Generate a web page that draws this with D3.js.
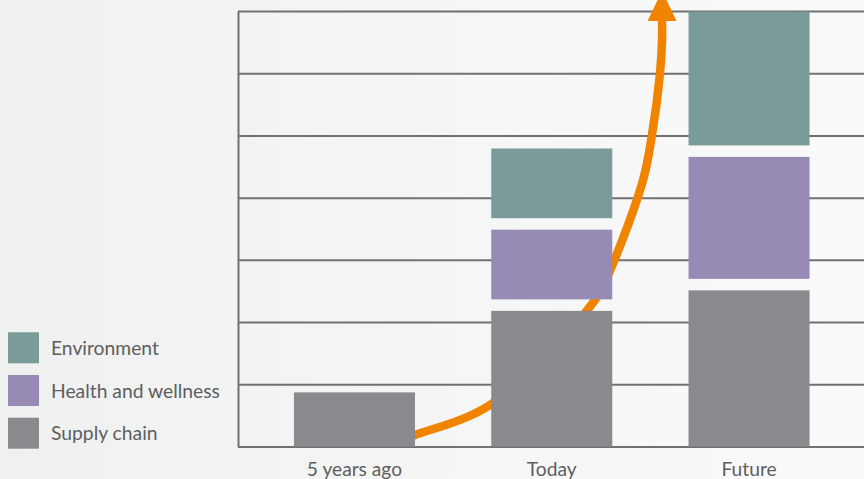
<!DOCTYPE html>
<html>
<head>
<meta charset="utf-8">
<script src="https://cdn.jsdelivr.net/npm/d3@7"></script>
<style>
	html, body { margin: 0; padding: 0; overflow: hidden; }
	#chart text { font-family: Lato, "Open Sans", sans-serif; fill: #5e5e5e; }
</style>
</head>
<body>
<div id="chart"></div>
<script>
const categories = ["5 years ago", "Today", "Future"];
const seriesNames = ["Supply chain", "Health and wellness", "Environment"];
const supplyChain = [0.87, 2.18, 2.51];
const healthWellness = [0, 1.12, 1.96];
const environment = [0, 1.12, 2.15];
const gridTicks = [0, 1, 2, 3, 4, 5, 6, 7];
// growth arrow, x in category index units, y in value units
const arrowX = [0.256, 0.307, 0.687, 1.219, 1.305, 1.463, 1.508, 1.549, 1.559, 1.559];
const arrowY = [0.121, 0.185, 0.667, 2.355, 2.902, 4.285, 5.008, 6.004, 6.534, 6.856];

const colors = ["#8a898d", "#978bb5", "#7b9a9a"];

const w = 864;
const h = 479;
const plotLeft = 238;
const plotTop = 11;
const plotBottom = 446.5;
const gap = 11.5;

const svg = d3
	.select("#chart")
	.append("svg")
	.attr("width", w)
	.attr("height", h);

const grad = svg
	.append("defs")
	.append("linearGradient")
	.attr("id", "bg")
	.attr("x1", 0)
	.attr("x2", 1)
	.attr("y1", 0)
	.attr("y2", 0);
grad.append("stop").attr("offset", "0%").attr("stop-color", "#eff0f0");
grad.append("stop").attr("offset", "100%").attr("stop-color", "#fafafa");

svg
	.append("rect")
	.attr("width", w)
	.attr("height", h)
	.attr("fill", "url(#bg)");

const xScale = d3
	.scaleBand()
	.domain(categories)
	.range([254.5, 849])
	.paddingInner(0.3866)
	.paddingOuter(0.2);
const yScale = d3.scaleLinear().domain([0, 7]).range([plotBottom, plotTop]);

const center = (i) => xScale(categories[i]) + xScale.bandwidth() / 2;
const xIndex = d3.scaleLinear().domain([0, 1]).range([center(0), center(1)]);

// grid and vertical axis line
const yAxis = d3
	.axisLeft(yScale)
	.tickValues(gridTicks)
	.tickSize(-(w - plotLeft))
	.tickSizeOuter(0)
	.tickFormat("");
const gy = svg
	.append("g")
	.attr("transform", "translate(" + plotLeft + ",0)")
	.call(yAxis);
gy.selectAll("line").attr("stroke", "#717171").attr("stroke-width", 2);
gy.select(".domain").attr("stroke", "#717171").attr("stroke-width", 2);

// arrow behind the bars
const arrowPts = arrowX.map((x, i) => [xIndex(x), yScale(arrowY[i])]);
svg
	.append("path")
	.attr("d", d3.line().curve(d3.curveCatmullRom.alpha(0.5))(arrowPts))
	.attr("fill", "none")
	.attr("stroke", "#f08300")
	.attr("stroke-width", 8.5);
const end = arrowPts[arrowPts.length - 1];
svg
	.append("path")
	.attr(
		"d",
		`M${end[0] - 14.5},${end[1] + 1}L${end[0] + 14.5},${end[1] + 1}L${end[0]},${end[1] - 29}Z`
	)
	.attr("fill", "#f08300");

// stacked bars with white gaps
const table = categories.map((c, i) => ({
	cat: c,
	"Supply chain": supplyChain[i],
	"Health and wellness": healthWellness[i],
	Environment: environment[i],
}));
const stack = d3.stack().keys(seriesNames)(table);

stack.forEach((layer, k) => {
	svg
		.append("g")
		.selectAll("rect")
		.data(layer.filter((d) => d[1] - d[0] > 0))
		.enter()
		.append("rect")
		.attr("x", (d) => xScale(d.data.cat))
		.attr("y", (d) => yScale(d[1]) - gap * k)
		.attr("width", xScale.bandwidth())
		.attr("height", (d) => yScale(d[0]) - yScale(d[1]))
		.attr("fill", colors[k]);
});

// category labels
const xAxis = d3.axisBottom(xScale).tickSize(0).tickPadding(15.5);
const gx = svg
	.append("g")
	.attr("transform", "translate(0," + plotBottom + ")")
	.call(xAxis);
gx.select(".domain").remove();
gx.selectAll("text").style("font-size", "19.2px");

// legend, Environment on top
const legend = svg
	.append("g")
	.selectAll("g")
	.data(seriesNames.slice().reverse())
	.enter()
	.append("g")
	.attr("transform", (d, i) => "translate(8," + (332.3 + i * 42.7) + ")");
legend
	.append("rect")
	.attr("width", 31)
	.attr("height", 31)
	.attr("fill", (d) => colors[seriesNames.indexOf(d)]);
legend
	.append("text")
	.attr("x", 43)
	.attr("y", 22.5)
	.style("font-size", "19.3px")
	.text((d) => d);
</script>
</body>
</html>
